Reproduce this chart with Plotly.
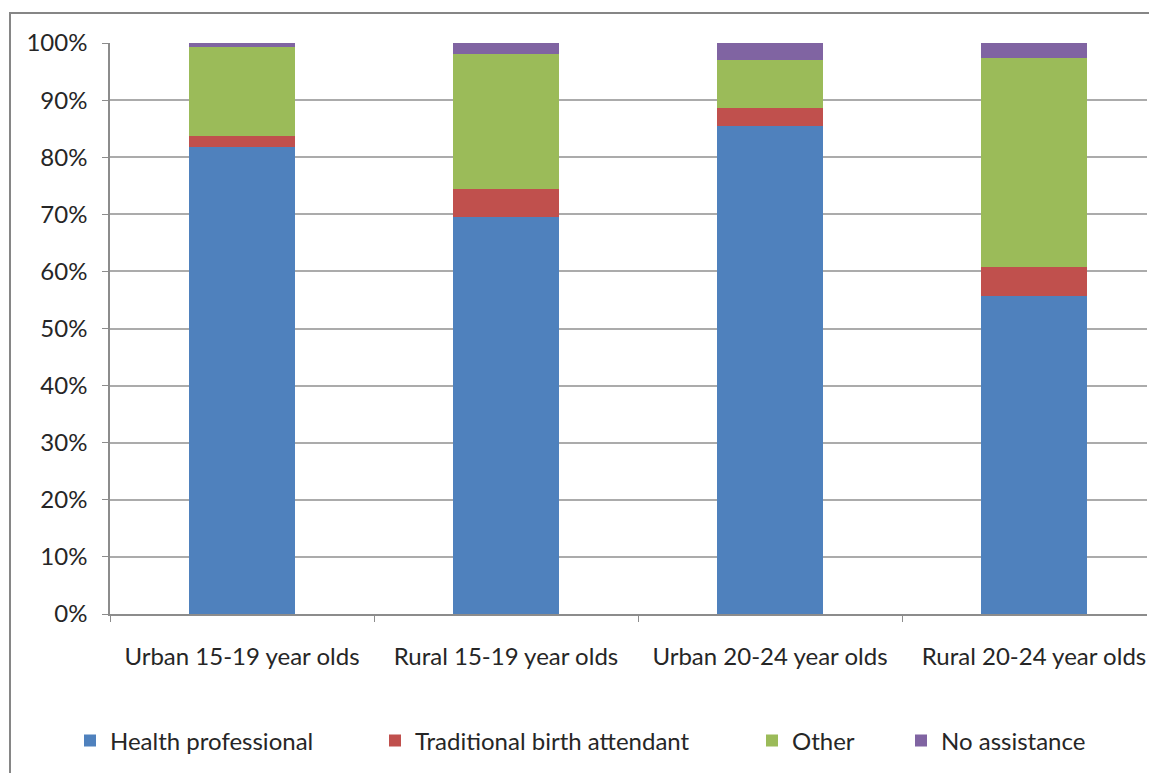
import plotly.graph_objects as go

categories = ["Urban 15-19 year olds", "Rural 15-19 year olds",
              "Urban 20-24 year olds", "Rural 20-24 year olds"]
health_professional = [81.7, 69.5, 85.5, 55.7]
traditional_birth_attendant = [2.0, 5.0, 3.1, 5.1]
other = [15.6, 23.6, 8.5, 36.5]
no_assistance = [0.7, 1.9, 2.9, 2.7]
y_tick_values = [0, 10, 20, 30, 40, 50, 60, 70, 80, 90, 100]
y_tick_labels = ["0%", "10%", "20%", "30%", "40%", "50%",
                 "60%", "70%", "80%", "90%", "100%"]

series = [
    ("Health professional", health_professional, "#4F81BD", "legend"),
    ("Traditional birth attendant", traditional_birth_attendant, "#C0504D", "legend2"),
    ("Other", other, "#9BBB59", "legend3"),
    ("No assistance", no_assistance, "#8064A2", "legend4"),
]

FONT = "Lato, 'Open Sans', sans-serif"
FS = 24
W, H = 1149, 773
# target plot area in window pixels: x 110..1147, y 43..614
L = 110
T = 43
R = W - 1147
B = H - 614
pw = W - L - R
ph = H - T - B

def px_x(x):
    return (x - L) / pw

def px_y(y):
    return (H - B - y) / ph

fig = go.Figure()
for name, vals, color, lg in series:
    fig.add_trace(go.Bar(
        x=categories, y=vals, name=name, marker_color=color,
        marker_line_width=0, width=0.4, legend=lg,
    ))

legend_text_x = [110, 415, 792, 941]
legend_common = dict(
    orientation="h", yanchor="middle", xanchor="left", y=px_y(741),
    font=dict(family=FONT, size=FS, color="#262626"),
    bgcolor="rgba(0,0,0,0)", borderwidth=0,
)
fig.update_layout(
    legend=dict(x=px_x(legend_text_x[0] - 40), **legend_common),
    legend2=dict(x=px_x(legend_text_x[1] - 40), **legend_common),
    legend3=dict(x=px_x(legend_text_x[2] - 40), **legend_common),
    legend4=dict(x=px_x(legend_text_x[3] - 40), **legend_common),
)

fig.update_layout(
    barmode="stack",
    width=W, height=H,
    margin=dict(l=L, r=R, t=T, b=B, pad=0),
    paper_bgcolor="white", plot_bgcolor="white",
    font=dict(family=FONT, size=FS, color="#262626"),
    showlegend=True,
)
fig.update_xaxes(
    type="category", range=[-0.5, -0.5 + pw / 264.0],
    showline=True, linecolor="#8C8C8C", linewidth=1.5,
    ticks="outside", tickson="boundaries", ticklen=6, tickcolor="#8C8C8C",
    showgrid=False, ticklabelstandoff=20,
    tickfont=dict(family=FONT, size=FS, color="#262626"),
)
fig.update_yaxes(
    range=[0, 100], tickmode="array", tickvals=y_tick_values, ticktext=y_tick_labels,
    showline=True, linecolor="#8C8C8C", linewidth=1.5,
    ticks="outside", ticklen=6, tickcolor="#8C8C8C",
    showgrid=True, gridcolor="#ABABAB", gridwidth=1.5, zeroline=False,
    ticklabelstandoff=10,
    tickfont=dict(family=FONT, size=FS, color="#262626"),
)

# outer chart frame
fig.add_shape(type="rect", xref="paper", yref="paper",
              x0=px_x(10), x1=px_x(1149 + 30), y0=px_y(773 + 30), y1=px_y(13),
              line=dict(color="#868686", width=2), fillcolor="rgba(0,0,0,0)",
              layer="below")

fig.write_html(
    "out.html",
    config={"displayModeBar": False},
    post_script="document.body.style.margin='0';document.body.style.overflow='hidden';",
)
